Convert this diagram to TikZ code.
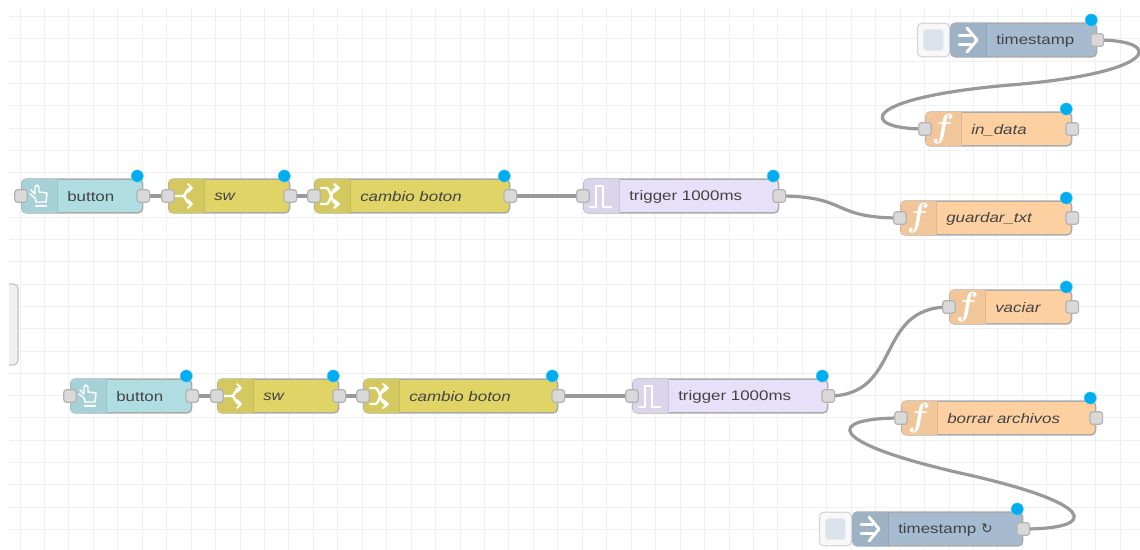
\documentclass[tikz,border=0pt]{standalone}
\usepackage{fontspec}
\setmainfont[FakeStretch=1.22]{Liberation Sans}
\newfontfamily\symfont{DejaVu Sans}
\usetikzlibrary{calc}
\pgfdeclarelayer{gridlayer}
\pgfdeclarelayer{wirelayer}
\pgfsetlayers{gridlayer,wirelayer,main}
\definecolor{cbutton}{HTML}{AFDDE2}
\definecolor{cswitch}{HTML}{DFD465}
\definecolor{ctrigger}{HTML}{E6E0F8}
\definecolor{cfunc}{HTML}{FDD0A2}
\definecolor{cinject}{HTML}{A6BBCF}
\definecolor{cgrid}{HTML}{F0F0F0}
\definecolor{cborder}{HTML}{ABABAB}
\definecolor{cport}{HTML}{D9D9D9}
\definecolor{cwire}{HTML}{999999}
\definecolor{cdot}{HTML}{00AEEF}
\definecolor{ctext}{HTML}{444444}
\tikzset{
  x=0.75pt,y=-0.75pt,
  nodebody/.style={draw=cborder,line width=1.1pt,rounded corners=3.2pt,minimum height=25.2pt,inner sep=0pt,anchor=west},
  portbox/.style={draw=cborder!90,fill=cport,line width=0.9pt,rounded corners=2.2pt,minimum width=9.5pt,minimum height=9.5pt,inner sep=0pt},
  dotmark/.style={circle,fill=cdot,draw=cdot!60!white,line width=0.3pt,minimum size=9.2pt,inner sep=0pt},
  lab/.style={anchor=west,inner sep=0pt,text=ctext,font=\fontsize{10.4pt}{12pt}\selectfont},
  itlab/.style={lab,font=\fontsize{10.4pt}{12pt}\selectfont\itshape},
  wire/.style={draw=cwire,line width=2.4pt},
  ico/.style={draw=white,line width=1.5pt,line cap=round,line join=round},
  injbtn/.style={draw=cgrid!90!black,fill=cgrid!50!white,line width=0.9pt,rounded corners=3.2pt,minimum width=24pt,minimum height=25.2pt,inner sep=0pt,anchor=east},
  injinner/.style={fill=cinject!40!white,rounded corners=2.4pt,minimum width=15pt,minimum height=16pt,inner sep=0pt}
}
% #1 name, #2 x0, #3 x1, #4 yc, #5 colour, #6 label style, #7 text, #8 icon, #9 has-in (1/0)
\newcommand{\nrnode}[9]{%
  \pgfmathsetmacro{\nw}{(#3-#2)*0.75-0.9}%
  \node[nodebody,fill=#5,minimum width=\nw pt] (#1) at (#2,#4) {};
  \begin{scope}
    \clip ($(#1.north west)+(0.5,0.5)$) rectangle ($(#1.south west)+(36,-0.5)$);
    \fill[#5!95!black,rounded corners=3.2pt] ($(#1.north west)+(0.5,0.5)$) rectangle ($(#1.south west)+(60,-0.5)$);
  \end{scope}
  \draw[#5!88!black,line width=0.7pt] ($(#1.north west)+(36,1)$) -- ($(#1.south west)+(36,-1)$);
  \begin{scope}[shift={(#2+18,#4)}]#8\end{scope}
  \node[#6] (#1-l) at (#2+46,#4+1) {#7};
  \node[portbox] (#1-o) at (#1.east) {};
  \ifnum#9=1 \node[portbox] (#1-i) at (#1.west) {};\fi
  \node[dotmark] (#1-d) at ($(#1.east)+(-6,-20)$) {};
}
\newcommand{\icohand}{\draw[ico,line width=1.1pt] (-8,-6) -- (-4,-2) -- (-4,-9) -- (-2,-11) -- (0,-9) -- (0,-4) -- (8,-3) -- (7,6) -- (-3,6) -- (-4,2) -- (-9,-2); \draw[ico,line width=1.6pt] (-3,10) -- (7,10);}
\newcommand{\icosw}{\draw[ico,line width=1.8pt] (-11,0) -- (-3,0) .. controls (0,0) and (0,-8) .. (5,-8) (-3,0) .. controls (0,0) and (0,8) .. (5,8); \draw[ico] (2,-12) -- (6,-8) -- (2,-4) (2,4) -- (6,8) -- (2,12);}
\newcommand{\icoshuf}{\draw[ico,line width=1.8pt] (-11,-8) -- (-6,-8) .. controls (-1,-8) and (-1,8) .. (5,8) (-11,8) -- (-6,8) .. controls (-1,8) and (-1,-8) .. (5,-8); \draw[ico] (2,-12) -- (7,-8) -- (2,-4) (2,4) -- (7,8) -- (2,12);}
\newcommand{\icotrig}{\draw[ico,line width=1.8pt] (-11,11) -- (-5,11) -- (-5,-10) -- (2,-10) -- (2,11) -- (10,11);}
\newcommand{\icofunc}{\node[text=white,inner sep=0pt,font=\fontsize{24pt}{24pt}\selectfont\boldmath] (fglyph) at (0,0) {$f$};}
\newcommand{\icoinj}{\draw[ico,line width=2pt] (-9,-4.5) -- (3,-4.5) (-9,4.5) -- (3,4.5); \draw[ico,line width=2.2pt] (-1,-12) -- (9,0) -- (-1,12);}
\begin{document}
\begin{tikzpicture}
\useasboundingbox (0,0) rectangle (1140,550);
\begin{pgfonlayer}{gridlayer}
  \fill[white] (0,0) rectangle (1140,550);
  \foreach \k in {0,...,45} {\pgfmathsetmacro{\gx}{int(20+\k*24.45)+0.5}\draw[cgrid,line width=0.9pt] (\gx,8) -- (\gx,550);}
  \foreach \k in {0,...,24} {\pgfmathsetmacro{\gy}{int(16.5+\k*22.3)+0.5}\draw[cgrid,line width=0.9pt] (9,\gy) -- (1140,\gy);}
\end{pgfonlayer}
\draw[cborder!70!white,fill=cgrid,line width=0.9pt,rounded corners=3.5pt] (9,284) -- (18,284) -- (18,365) -- (9,365);
\nrnode{btnA}{21}{143}{196}{cbutton}{lab}{button}{\icohand}{1}
\nrnode{swA}{168}{290}{196}{cswitch}{itlab}{sw}{\icosw}{1}
\nrnode{chgA}{314}{510}{196}{cswitch}{itlab}{cambio boton}{\icoshuf}{1}
\nrnode{trgA}{583}{779}{196}{ctrigger}{lab}{trigger 1000ms}{\icotrig}{1}
\nrnode{save}{900}{1072}{218}{cfunc}{itlab}{guardar\_txt}{\icofunc}{1}
\nrnode{indata}{925}{1072}{129}{cfunc}{itlab}{in\_data}{\icofunc}{1}
\node[injbtn] (tsA-b) at (950,40) {};
\node[injinner] (tsA-c) at (tsA-b.center) {};
\nrnode{tsA}{950}{1097}{40}{cinject}{lab}{timestamp}{\icoinj}{0}
\nrnode{empty}{949}{1072}{307}{cfunc}{itlab}{vaciar}{\icofunc}{1}
\nrnode{del}{901}{1096}{418}{cfunc}{itlab}{borrar archivos}{\icofunc}{1}
\node[injbtn] (tsB-b) at (852,529) {};
\node[injinner] (tsB-c) at (tsB-b.center) {};
\nrnode{tsB}{852}{1023}{529}{cinject}{lab}{timestamp {\symfont ↻}}{\icoinj}{0}
\nrnode{btnB}{70}{192}{396}{cbutton}{lab}{button}{\icohand}{1}
\nrnode{swB}{217}{339}{396}{cswitch}{itlab}{sw}{\icosw}{1}
\nrnode{chgB}{363}{558}{396}{cswitch}{itlab}{cambio boton}{\icoshuf}{1}
\nrnode{trgB}{632}{828}{396}{ctrigger}{lab}{trigger 1000ms}{\icotrig}{1}
\begin{pgfonlayer}{wirelayer}
  \draw[wire] (btnA-o.center) -- (swA-i.center);
  \draw[wire] (swA-o.center) -- (chgA-i.center);
  \draw[wire] (chgA-o.center) -- (trgA-i.center);
  \draw[wire] (trgA-o.center) .. controls +(70,0) and +(-70,0) .. (save-i.center);
  \draw[wire] (btnB-o.center) -- (swB-i.center);
  \draw[wire] (swB-o.center) -- (chgB-i.center);
  \draw[wire] (chgB-o.center) -- (trgB-i.center);
  \draw[wire] (trgB-o.center) .. controls +(75,0) and +(-75,0) .. (empty-i.center);
  \coordinate (midA) at (1010,85);
  \draw[wire] (tsA-o.center) .. controls +(68,0) and (1160,73) .. (midA) .. controls (858,98) and (858,129) .. (indata-i.center);
  \coordinate (midB) at (960,473);
  \draw[wire] (tsB-o.center) .. controls +(78,0) and (1097,503) .. (midB) .. controls (825,442) and (825,418) .. (del-i.center);
\end{pgfonlayer}
\end{tikzpicture}
\end{document}
